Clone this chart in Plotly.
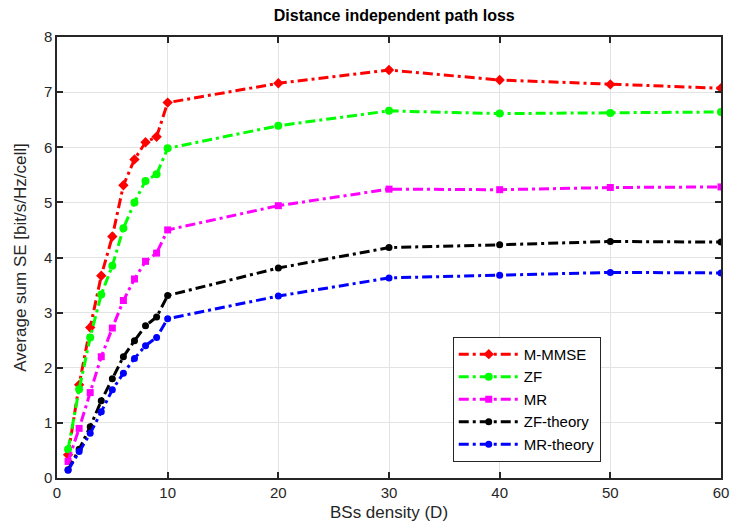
import plotly.graph_objects as go

density = [1, 2, 3, 4, 5, 6, 7, 8, 9, 10, 20, 30, 40, 50, 60]

se_mmmse = [0.42, 1.69, 2.73, 3.67, 4.38, 5.31, 5.78, 6.09, 6.19, 6.81, 7.16, 7.40, 7.22, 7.14, 7.07]
se_zf = [0.52, 1.61, 2.55, 3.33, 3.85, 4.53, 5.00, 5.39, 5.51, 5.98, 6.39, 6.66, 6.61, 6.62, 6.64]
se_mr = [0.30, 0.90, 1.55, 2.20, 2.72, 3.22, 3.61, 3.93, 4.08, 4.50, 4.94, 5.24, 5.23, 5.27, 5.28]
se_zf_theory = [0.15, 0.52, 0.93, 1.40, 1.80, 2.20, 2.49, 2.76, 2.92, 3.31, 3.81, 4.18, 4.23, 4.29, 4.28]
se_mr_theory = [0.14, 0.48, 0.81, 1.20, 1.60, 1.90, 2.17, 2.40, 2.55, 2.89, 3.30, 3.63, 3.68, 3.73, 3.72]

series = [
    ("M-MMSE", se_mmmse, "#ff0000", "diamond", 8),
    ("ZF", se_zf, "#00ff00", "circle", 8),
    ("MR", se_mr, "#ff00ff", "square", 7),
    ("ZF-theory", se_zf_theory, "#000000", "circle", 7),
    ("MR-theory", se_mr_theory, "#0000ff", "circle", 7),
]

FONT = "Liberation Sans, Arial, sans-serif"

fig = go.Figure()
for name, vals, color, symbol, size in series:
    fig.add_trace(go.Scatter(
        x=density, y=vals, name=name, mode="lines+markers",
        line=dict(color=color, width=3, dash="10px,4px,3px,4px"),
        marker=dict(color=color, symbol=symbol, size=size),
    ))

axis_common = dict(
    showline=True, linecolor="#262626", linewidth=1.5, mirror="ticks",
    ticks="inside", ticklen=6, tickcolor="#262626", tickwidth=1.5,
    showgrid=True, gridcolor="#e3e3e3", gridwidth=1,
    zeroline=False,
    tickfont=dict(family=FONT, size=15, color="#262626"),
)

fig.update_layout(
    width=737, height=531,
    margin=dict(l=57, r=8, t=37, b=53),
    paper_bgcolor="white", plot_bgcolor="white",
    title=dict(text="<b>Distance independent path loss</b>", x=0.535, xanchor="center",
               y=0.982, yanchor="top",
               font=dict(family=FONT, size=16, color="#000000")),
    xaxis=dict(range=[0, 60], dtick=10,
               title=dict(text="BSs density (D)", standoff=6,
                          font=dict(family=FONT, size=17, color="#262626")),
               **axis_common),
    yaxis=dict(range=[0, 8], dtick=1,
               title=dict(text="Average sum SE [bit/s/Hz/cell]", standoff=13,
                          font=dict(family=FONT, size=17, color="#262626")),
               **axis_common),
    legend=dict(x=0.596, y=0.32, xanchor="left", yanchor="top",
                bgcolor="white", bordercolor="#262626", borderwidth=1,
                font=dict(family=FONT, size=15, color="#000000"),
                tracegroupgap=0, itemwidth=60),
    showlegend=True,
)

fig.write_html("out.html")
